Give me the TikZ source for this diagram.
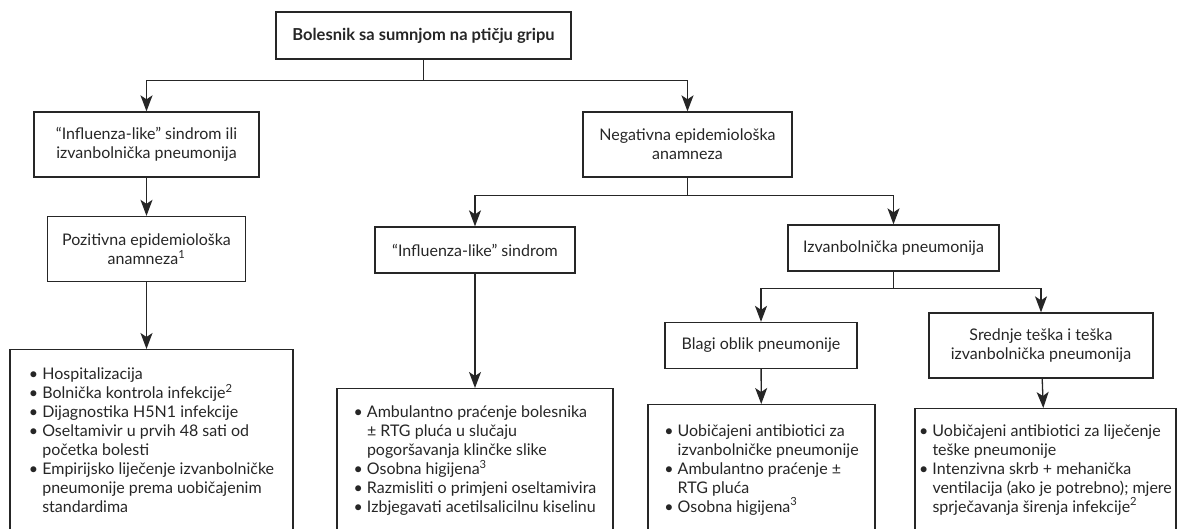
\documentclass[tikz,border=0pt]{standalone}
\usepackage{fontspec}
\setmainfont{Lato}
\usepackage{tikz}
\usetikzlibrary{arrows.meta, math}

\newcommand{\bitem}{\textbullet\ }
\newcommand{\bcont}{\hphantom{\textbullet\ }}

\tikzset{
    box/.style={draw=black!85, line width=1.3pt, rectangle, align=center, inner sep=0pt, text=black!85, font=\fontsize{16}{19}\selectfont},
    listbox/.style={box, align=left, anchor=north},
    arr/.style={draw=black!85, line width=1.3pt, -{Stealth[length=16pt, width=12pt, inset=4pt]}}
}

\begin{document}
\begin{tikzpicture}[x=1pt, y=-1pt]
    \useasboundingbox (0,0) rectangle (1192,529);
    \clip (0,0) rectangle (1192,529);
    \tikzmath{\xPos = 146.5; \xNeg = 687.5; \xFlu = 475; \xCap = 893.5; \xMild = 761; \xSev = 1041; \yTop = 35.5; \yOne = 144.5; \yTwo = 249; \yThree = 345.5;}

    \node[box, minimum width=295, minimum height=47, font=\bfseries\fontsize{16.5}{19}\selectfont](patient) at (423.5,\yTop) {Bolesnik sa sumnjom na ptičju gripu};

    \node[box, minimum width=225, minimum height=65](flu-cap) at (\xPos,\yOne) {“Influenza-like” sindrom ili\\ izvanbolnička pneumonija};

    \node[box, minimum width=209, minimum height=65](neg-epi) at (\xNeg,\yOne) {Negativna epidemiološka\\ anamneza};

    \node[box, minimum width=198, minimum height=65](pos-epi) at (\xPos,\yTwo) {Pozitivna epidemiološka\\ anamneza\textsuperscript{1}};

    \node[box, minimum width=200, minimum height=46](flu-like) at (\xFlu,250) {“Influenza-like” sindrom};

    \node[box, minimum width=211, minimum height=46](cap) at (\xCap,248) {Izvanbolnička pneumonija};

    \node[box, minimum width=192, minimum height=46](mild) at (\xMild,\yThree) {Blagi oblik pneumonije};

    \node[box, minimum width=224, minimum height=65](severe) at (\xSev,\yThree) {Srednje teška i teška\\ izvanbolnička pneumonija};

    \node[listbox, minimum width=283, minimum height=182](care-pos) at (151.5,349) {\bitem Hospitalizacija\\ \bitem Bolnička kontrola infekcije\textsuperscript{2}\\ \bitem Dijagnostika H5N1 infekcije\\ \bitem Oseltamivir u prvih 48 sati od\\ \bcont početka bolesti\\ \bitem Empirijsko liječenje izvanbolničke\\ \bcont pneumonije prema uobičajenim\\ \bcont standardima};

    \node[listbox, minimum width=276, minimum height=144](care-flu) at (\xFlu,388) {\bitem Ambulantno praćenje bolesnika\\ \bcont ± RTG pluća u slučaju\\ \bcont pogoršavanja klinčke slike\\ \bitem Osobna higijena\textsuperscript{3}\\ \bitem Razmisliti o primjeni oseltamivira\\ \bitem Izbjegavati acetilsalicilnu kiselinu};

    \node[listbox, minimum width=227, minimum height=130](care-mild) at (761.5,404) {\bitem Uobičajeni antibiotici za\\ \bcont izvanbolničke pneumonije\\ \bitem Ambulantno praćenje ±\\ \bcont RTG pluća\\ \bitem Osobna higijena\textsuperscript{3}};

    \node[listbox, minimum width=261, minimum height=122](care-severe) at (1045.5,408) {\bitem Uobičajeni antibiotici za liječenje\\ \bcont teške pneumonije\\ \bitem Intenzivna skrb + mehanička\\ \bcont ventilacija (ako je potrebno); mjere\\ \bcont sprječavanja širenja infekcije\textsuperscript{2}};

    \draw[arr] (patient.south) -- ++(0,21) -| (flu-cap.north);
    \draw[arr] (patient.south) -- ++(0,21) -| (neg-epi.north);
    \draw[arr] (flu-cap) -- (pos-epi);
    \draw[arr] (pos-epi.south) -- (pos-epi.south |- care-pos.north);
    \draw[arr] (neg-epi.south) -- ++(0,18) -| (flu-like.north);
    \draw[arr] (neg-epi.south) -- ++(0,18) -| (cap.north);
    \draw[arr] (flu-like) -- (care-flu);
    \draw[arr] (cap.south) -- ++(0,17) -| (mild.north);
    \draw[arr] (cap.south) -- ++(0,17) -| (severe.north);
    \draw[arr] (mild) -- (care-mild);
    \draw[arr] (severe) -- (care-severe);
\end{tikzpicture}
\end{document}
